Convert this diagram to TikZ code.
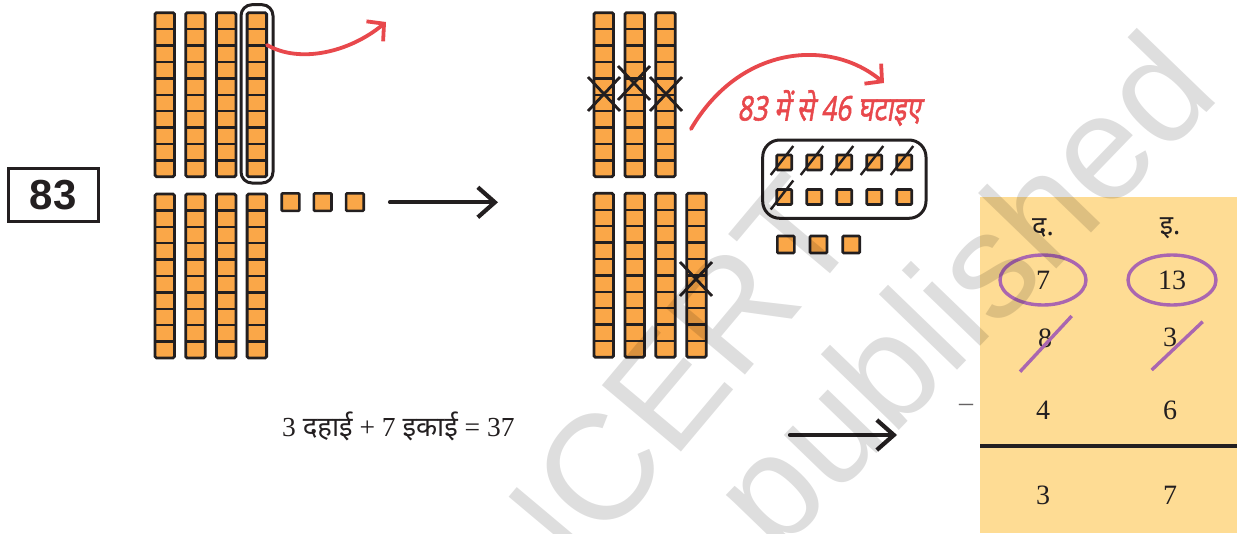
\documentclass[tikz,border=0pt]{standalone}
\usepackage{fontspec}
\setmainfont{Liberation Serif}
\newfontfamily\deva[Script=Devanagari]{Noto Sans}
\newfontfamily\devait[Script=Devanagari,FakeSlant=0.22,FakeBold=1.6]{Noto Sans}
\newfontfamily\wmfont{Liberation Sans}
\usetikzlibrary{arrows.meta}
\definecolor{cellor}{RGB}{250,167,72}
\definecolor{ink}{RGB}{35,31,32}
\definecolor{redar}{RGB}{232,72,76}
\definecolor{tanbg}{RGB}{254,220,148}
\definecolor{purp}{RGB}{170,102,176}
\tikzset{
  rodline/.style={draw=ink,line width=2.8pt,rounded corners=1.5pt},
  cellline/.style={draw=ink,line width=2.4pt},
  unitsq/.style={fill=cellor,draw=ink,line width=2.6pt,rounded corners=1pt},
  crossline/.style={draw=ink,line width=2.8pt},
  slashline/.style={draw=ink,line width=2.4pt},
  blackarrow/.style={draw=ink,line width=4.2pt,line cap=round,-{Straight Barb[length=17pt,width=30pt]}},
  redarrow/.style={draw=redar,line width=3.8pt,line cap=round,-{Straight Barb[length=12pt,width=26pt]}},
  tabnum/.style={font=\fontsize{28}{28}\selectfont,text=ink,inner sep=0pt},
  tabhead/.style={font=\deva\fontsize{27}{27}\selectfont,text=ink,inner sep=0pt},
  purpline/.style={draw=purp,line width=3.4pt},
  wm/.style={font=\wmfont\fontsize{150}{150}\selectfont,text=black,text opacity=0.13,inner sep=0pt}
}
\newcommand\tenrod[2]{%
  \fill[cellor] (#1,#2) rectangle ++(19.5,164);
  \foreach \k in {1,...,9} \draw[cellline] (#1,#2+\k*16.4) -- ++(19.5,0);
  \draw[rodline] (#1,#2) rectangle ++(19.5,164);
}
\newcommand\crossmark[2]{%
  \draw[crossline] (#1-16,#2-17) -- (#1+16,#2+17);
  \draw[crossline] (#1-16,#2+17) -- (#1+16,#2-17);
}
\begin{document}
\begin{tikzpicture}[x=1pt,y=-1pt]
\useasboundingbox (0,0) rectangle (1237,533);
% 83 box
\node[draw=ink,line width=2.5pt,minimum width=90pt,minimum height=53pt,inner sep=0pt,
      font=\wmfont\bfseries\fontsize{42}{42}\selectfont,text=ink] (num) at (53.3,195) {83};
% left rods
\foreach \i in {0,...,3} {\tenrod{155+30.7*\i}{12.7}}
\foreach \i in {0,...,3} {\tenrod{155+30.7*\i}{194}}
\draw[draw=ink,line width=3pt,rounded corners=11pt] (241,4.7) rectangle (273,183);
\foreach \i in {0,1,2} {\draw[unitsq] (281.7+32.2*\i,193.3) rectangle ++(17.6,17.6);}
% red arrow 1
\coordinate (r1s) at (267,45);
\coordinate (r1e) at (386,22);
\draw[redarrow] (r1s) .. controls (300,64) and (350,52) .. (r1e);
% black arrow 1
\coordinate (a1s) at (390,202.3);
\coordinate (a1e) at (498,202.3);
\draw[blackarrow] (a1s) -- (a1e);
% middle rods
\foreach \i in {0,1,2} {\tenrod{594+30.9*\i}{12.7}}
\foreach \i in {0,...,3} {\tenrod{594+30.9*\i}{193.3}}
\crossmark{604}{94}
\crossmark{634}{83}
\crossmark{666}{94}
\crossmark{696}{279}
% red arrow 2 and text
\coordinate (r2s) at (691,129);
\coordinate (r2e) at (884,83);
\draw[redarrow] (r2s) .. controls (740,45) and (830,38) .. (r2e);
\node[text=redar,font=\devait\fontsize{34}{34}\selectfont,inner sep=0pt,xscale=0.77] (sub) at (829,108) {83 में से 46 घटाइए};
% units box
\draw[draw=ink,line width=3pt,rounded corners=17pt] (762.7,140) rectangle (926,218.3);
\foreach \i in {0,...,4} {
  \draw[unitsq] (776.7+30*\i,155) rectangle ++(15,15);
  \draw[unitsq] (776.7+30*\i,189.5) rectangle ++(15,15);
}
\foreach \i in {0,...,4} {\draw[slashline] (770.7+30*\i,175) -- ++(22.6,-29);}
\draw[slashline] (770.7,209.5) -- ++(22.6,-29);
\foreach \i in {0,1,2} {\draw[unitsq] (777.3+32.7*\i,236) rectangle ++(17,17);}
% bottom equation
\node[anchor=base west,inner sep=0pt,font=\fontsize{27.5}{27.5}\selectfont,text=ink] (eq) at (282,436)
  {3 {\deva दहाई} + 7 {\deva इकाई} = 37};
% black arrow 2
\coordinate (a2s) at (790,435);
\coordinate (a2e) at (897,435);
\draw[blackarrow] (a2s) -- (a2e);
% table
\fill[tanbg] (980,196.7) rectangle (1237,533);
\node[tabhead] (hd) at (1043,228) {द.};
\node[tabhead] (hi) at (1170,228) {इ.};
\node[tabnum] (t7) at (1043,280) {7};
\node[tabnum] (t13) at (1172,280) {13};
\draw[purpline] (t7) ellipse [x radius=43, y radius=25];
\draw[purpline] (t13) ellipse [x radius=44, y radius=25];
\node[tabnum] (t8) at (1045,338) {8};
\node[tabnum] (t3a) at (1170,337) {3};
\draw[purpline] (1020,371.7) -- (1071.7,316);
\draw[purpline] (1151.7,370) -- (1202.7,321.7);
\node[tabnum,text=ink!70] (minus) at (966,408) {–};
\node[tabnum] (t4) at (1043,410) {4};
\node[tabnum] (t6) at (1170,410) {6};
\coordinate (rl) at (980,446);
\coordinate (rr) at (1237,446);
\draw[draw=ink,line width=3.2pt] (rl) -- (rr);
\node[tabnum] (t3b) at (1043,495) {3};
\node[tabnum] (t7b) at (1170,495) {7};
% watermark
\node[wm,rotate=50] (wm1) at (660,397) {NCERT};
\node[wm,rotate=46] (wm2) at (972,300) {published};
\end{tikzpicture}
\end{document}
